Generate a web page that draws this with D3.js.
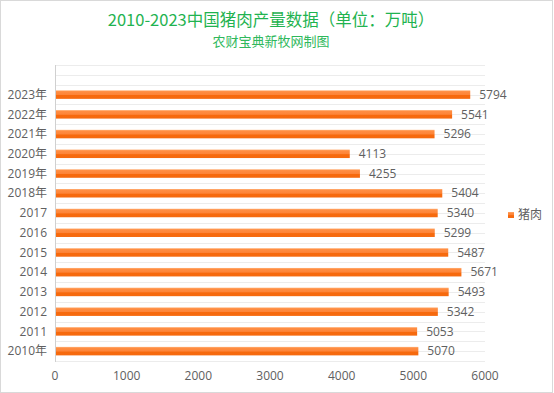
<!DOCTYPE html>
<html>
<head>
<meta charset="utf-8">
<script src="https://cdn.jsdelivr.net/npm/d3@7"></script>
<style>
  body { margin: 0; background: #fff; }
  text { font-family: "Open Sans", "Noto Sans CJK SC", sans-serif; }
  .cjk { font-family: "Noto Sans CJK SC", sans-serif; }
</style>
</head>
<body>
<div id="chart"></div>
<script>
var svgWidth = 554;
var svgHeight = 393;

// data
var years = ["2010年", "2011", "2012", "2013", "2014", "2015", "2016", "2017",
  "2018年", "2019年", "2020年", "2021年", "2022年", "2023年"];
var pork = [5070, 5053, 5342, 5493, 5671, 5487, 5299, 5340, 5404, 4255, 4113, 5296, 5541, 5794];
var xTicks = [0, 1000, 2000, 3000, 4000, 5000, 6000];

var margin = { top: 65, left: 55 };
var plotW = 430;
var plotH = 296;

var svg = d3.select("#chart")
  .append("svg")
  .attr("width", svgWidth)
  .attr("height", svgHeight);

// outer frame
svg.append("rect")
  .attr("x", 0.5).attr("y", 0.5)
  .attr("width", svgWidth - 2).attr("height", svgHeight - 1)
  .attr("fill", "#fff")
  .attr("stroke", "#d9d9d9");

// bar gradient
var defs = svg.append("defs");
var grad = defs.append("linearGradient")
  .attr("id", "barGrad")
  .attr("x1", 0).attr("y1", 0).attr("x2", 0).attr("y2", 1);
grad.append("stop").attr("offset", "0%").attr("stop-color", "#ffb27a");
grad.append("stop").attr("offset", "15%").attr("stop-color", "#ff8d42");
grad.append("stop").attr("offset", "50%").attr("stop-color", "#fd8438");
grad.append("stop").attr("offset", "60%").attr("stop-color", "#f7690c");
grad.append("stop").attr("offset", "100%").attr("stop-color", "#f56a10");

// titles
svg.append("text")
  .attr("class", "cjk")
  .attr("x", 271).attr("y", 26)
  .attr("text-anchor", "middle")
  .attr("font-size", "16.5px")
  .attr("fill", "#1fb350")
  .text("2010-2023中国猪肉产量数据（单位：万吨）");

svg.append("text")
  .attr("class", "cjk")
  .attr("x", 271).attr("y", 46)
  .attr("text-anchor", "middle")
  .attr("font-size", "13px")
  .attr("fill", "#2fb85c")
  .text("农财宝典新牧网制图");

var chartGroup = svg.append("g")
  .attr("transform", `translate(${margin.left}, ${margin.top})`);

var xScale = d3.scaleLinear().domain([0, 6000]).range([0, plotW]);

// one empty slot on top, like the original
var slots = [""].concat(years.slice().reverse());
var yScale = d3.scaleBand().domain(slots).range([0, plotH]);
var bw = yScale.bandwidth();

// gridlines at every half band
var gridY = d3.range(0, slots.length * 2 + 1).map(i => i * bw / 2);
chartGroup.selectAll(".grid")
  .data(gridY)
  .enter()
  .append("line")
  .attr("x1", 0).attr("x2", plotW)
  .attr("y1", d => Math.round(d) + 0.5)
  .attr("y2", d => Math.round(d) + 0.5)
  .attr("stroke", "#ececec");

// left axis line
chartGroup.append("line")
  .attr("x1", 0.5).attr("x2", 0.5)
  .attr("y1", 0).attr("y2", plotH + 1)
  .attr("stroke", "#d0d0d0");

// bars
var barH = 8.5;
chartGroup.selectAll(".bar")
  .data(years)
  .enter()
  .append("rect")
  .attr("x", 1)
  .attr("y", d => yScale(d) + bw / 2 - barH / 2)
  .attr("width", (d, i) => xScale(pork[i]) - 1)
  .attr("height", barH)
  .attr("fill", "url(#barGrad)");

// value labels
chartGroup.selectAll(".val")
  .data(years)
  .enter()
  .append("text")
  .attr("x", (d, i) => xScale(pork[i]) + 9)
  .attr("y", d => yScale(d) + bw / 2)
  .attr("dy", "0.35em")
  .attr("font-size", "12px")
  .attr("fill", "#606060")
  .text((d, i) => pork[i]);

// category labels
chartGroup.selectAll(".cat")
  .data(years)
  .enter()
  .append("text")
  .attr("x", -8)
  .attr("y", d => yScale(d) + bw / 2)
  .attr("dy", "0.35em")
  .attr("text-anchor", "end")
  .attr("font-size", "12px")
  .attr("fill", "#606060")
  .text(d => d);

// x tick labels
chartGroup.selectAll(".xt")
  .data(xTicks)
  .enter()
  .append("text")
  .attr("x", d => xScale(d))
  .attr("y", plotH + 15)
  .attr("dy", "0.35em")
  .attr("text-anchor", "middle")
  .attr("font-size", "12px")
  .attr("fill", "#606060")
  .text(d => d);

// legend
svg.append("rect")
  .attr("x", 508).attr("y", 212)
  .attr("width", 6).attr("height", 6)
  .attr("fill", "url(#barGrad)");
svg.append("text")
  .attr("class", "cjk")
  .attr("x", 518).attr("y", 215)
  .attr("dy", "0.35em")
  .attr("font-size", "12px")
  .attr("fill", "#606060")
  .text("猪肉");
</script>
</body>
</html>
